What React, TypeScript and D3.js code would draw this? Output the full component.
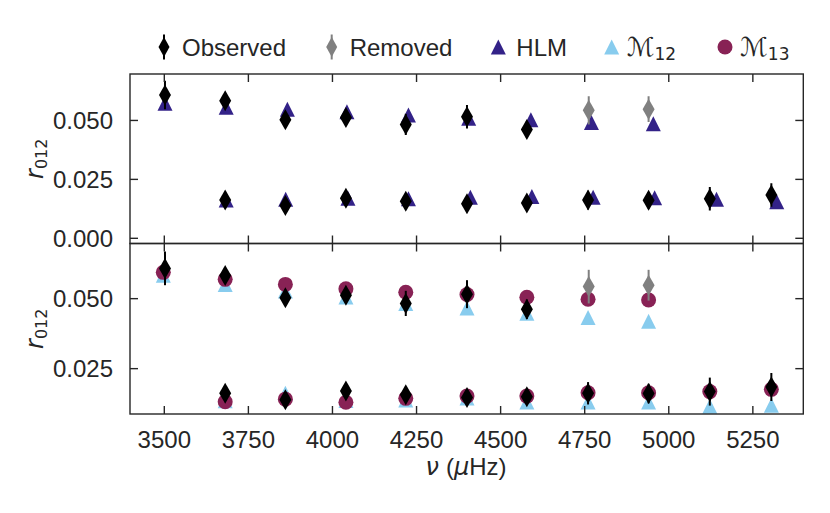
import React from "react";
import * as d3 from "d3";

// upper sequence (r01-like), observed
const obsFreqHi = [3502, 3681, 3860, 4040, 4218, 4400, 4578];
const obsHi = [0.0608, 0.0583, 0.0503, 0.0512, 0.0483, 0.0516, 0.0462];
const obsErrHi = [0.006, 0.002, 0.0025, 0.0025, 0.0045, 0.005, 0.0035];

// points removed from the fit
const remFreq = [4762, 4940];
const remVal = [0.0543, 0.0548];
const remErr = [0.006, 0.0055];

// lower sequence, observed
const obsFreqLo = [3681, 3860, 4040, 4218, 4400, 4578, 4760, 4940, 5122, 5305];
const obsLo = [0.0162, 0.0139, 0.017, 0.0157, 0.0147, 0.015, 0.0162, 0.0161, 0.0168, 0.0184];
const obsErrLo = [0.002, 0.002, 0.0025, 0.002, 0.002, 0.002, 0.004, 0.0035, 0.005, 0.005];

// HLM model
const hlmFreqHi = [3502, 3684, 3866, 4043, 4226, 4405, 4590, 4770, 4954];
const hlmHi = [0.0573, 0.0556, 0.0548, 0.0537, 0.0523, 0.0509, 0.0503, 0.0491, 0.0486];
const hlmFreqLo = [3684, 3861, 4046, 4226, 4410, 4593, 4775, 4958, 5142, 5321];
const hlmLo = [0.0163, 0.0166, 0.017, 0.0168, 0.0174, 0.0177, 0.0174, 0.0172, 0.0166, 0.0155];

// M12 / M13 models
const modFreqHi = [3497, 3681, 3860, 4040, 4218, 4400, 4578, 4760, 4940];
const modFreqLo = [3681, 3860, 4040, 4218, 4400, 4578, 4760, 4940, 5122, 5305];
const m12Hi = [0.0584, 0.0551, 0.0527, 0.0506, 0.0483, 0.0467, 0.0448, 0.0433, 0.0419];
const m12Lo = [0.0135, 0.0162, 0.0136, 0.0138, 0.0145, 0.0131, 0.0131, 0.0131, 0.0116, 0.0119];
const m13Hi = [0.0594, 0.0569, 0.0551, 0.0535, 0.0523, 0.0515, 0.0505, 0.0498, 0.0495];
const m13Lo = [0.0132, 0.0141, 0.013, 0.0144, 0.0152, 0.0152, 0.0164, 0.0164, 0.0168, 0.0176];

const xTicks = [3500, 3750, 4000, 4250, 4500, 4750, 5000, 5250];
const yTicksTop = [0, 0.025, 0.05];
const yTicksBottom = [0.025, 0.05];

const colors = {
  obs: "#000000",
  removed: "#808080",
  hlm: "#332288",
  m12: "#88CCEE",
  m13: "#882255",
};

const W = 830;
const H = 513;
const left = 130;
const right = 803.3;
const top = 74;
const mid = 243.5;
const bottom = 414;
const ink = "#262626";
const font = "'Liberation Sans', Arial, sans-serif";
const mathFont = "'DejaVu Sans', sans-serif";

const x = d3.scaleLinear().domain([3398, 5400]).range([left, right]);
const yTop = d3.scaleLinear().domain([-0.0022, 0.0697]).range([mid, top]);
const yBot = d3.scaleLinear().domain([0.0088, 0.0697]).range([bottom, mid]);
const fmt = d3.format(".3f");

const diamond = (w: number, h: number) =>
  `M0,${-h / 2}L${w / 2},0L0,${h / 2}L${-w / 2},0Z`;
const triangle = (s: number) => `M0,${-s / 2}L${s / 2},${s / 2}L${-s / 2},${s / 2}Z`;

const Diamonds = ({ f, v, e, y, color }: any) => (
  <g>
    {f.map((fi: number, i: number) => (
      <g key={i}>
        <line
          x1={x(fi)}
          x2={x(fi)}
          y1={y(v[i] - e[i])}
          y2={y(v[i] + e[i])}
          stroke={color}
          strokeWidth={2}
        />
        <path d={diamond(12, 21)} transform={`translate(${x(fi)},${y(v[i])})`} fill={color} />
      </g>
    ))}
  </g>
);

const Triangles = ({ f, v, y, color }: any) => (
  <g>
    {f.map((fi: number, i: number) => (
      <path key={i} d={triangle(15)} transform={`translate(${x(fi)},${y(v[i])})`} fill={color} />
    ))}
  </g>
);

const Circles = ({ f, v, y, color }: any) => (
  <g>
    {f.map((fi: number, i: number) => (
      <circle key={i} cx={x(fi)} cy={y(v[i])} r={7.5} fill={color} />
    ))}
  </g>
);

const Frame = ({ y, y0, y1, ticks }: any) => (
  <g>
    <rect x={left} y={y0} width={right - left} height={y1 - y0} fill="none" stroke={ink} strokeWidth={1.4} />
    {xTicks.map((t) => (
      <g key={"x" + t} stroke={ink} strokeWidth={1.4}>
        <line x1={x(t)} x2={x(t)} y1={y1} y2={y1 - 8} />
        <line x1={x(t)} x2={x(t)} y1={y0} y2={y0 + 8} />
      </g>
    ))}
    {ticks.map((t: number) => (
      <g key={"y" + t}>
        <line x1={left} x2={left + 8} y1={y(t)} y2={y(t)} stroke={ink} strokeWidth={1.4} />
        <line x1={right} x2={right - 8} y1={y(t)} y2={y(t)} stroke={ink} strokeWidth={1.4} />
        <text x={left - 17} y={y(t) + 8.6} textAnchor="end" fontSize={24} fontFamily={font} fill={ink}>
          {fmt(t)}
        </text>
      </g>
    ))}
    <text
      transform={`translate(43,${(y0 + y1) / 2}) rotate(-90)`}
      textAnchor="middle"
      fontFamily={mathFont}
      fill={ink}
    >
      <tspan fontSize={24} fontStyle="italic">r</tspan>
      <tspan fontSize={16} dy={4}>012</tspan>
    </text>
  </g>
);

const legendItems = [
  { label: "Observed", kind: "diamond", color: colors.obs, cx: 164 },
  { label: "Removed", kind: "diamond", color: colors.removed, cx: 331.7 },
  { label: "HLM", kind: "triangle", color: colors.hlm, cx: 498.3 },
  { label: "12", kind: "triangle", color: colors.m12, cx: 611.7, math: true },
  { label: "13", kind: "circle", color: colors.m13, cx: 725, math: true },
];

const Legend = () => {
  const cy = 47;
  return (
    <g>
      {legendItems.map((d) => (
        <g key={d.label}>
          {d.kind === "diamond" && (
            <g>
              <line x1={d.cx} x2={d.cx} y1={cy - 12.5} y2={cy + 12.5} stroke={d.color} strokeWidth={2} />
              <path d={diamond(11, 20)} transform={`translate(${d.cx},${cy})`} fill={d.color} />
            </g>
          )}
          {d.kind === "triangle" && (
            <path d={triangle(15)} transform={`translate(${d.cx},${cy})`} fill={d.color} />
          )}
          {d.kind === "circle" && <circle cx={d.cx} cy={cy} r={7.5} fill={d.color} />}
          {d.math ? (
            <text x={d.cx + 15} y={cy + 8.6} fill={ink} fontFamily={mathFont}>
              <tspan fontSize={26}>ℳ</tspan>
              <tspan fontSize={17} dy={4}>{d.label}</tspan>
            </text>
          ) : (
            <text x={d.cx + 18} y={cy + 8.6} fill={ink} fontFamily={font} fontSize={24}>
              {d.label}
            </text>
          )}
        </g>
      ))}
    </g>
  );
};

const App: React.FC = () => (
  <svg
    width={W}
    height={H}
    style={{ position: "absolute", left: 0, top: 0, background: "#fff" }}
  >
    <defs>
      <clipPath id="clipTop">
        <rect x={left} y={top} width={right - left} height={mid - top} />
      </clipPath>
      <clipPath id="clipBot">
        <rect x={left} y={mid} width={right - left} height={bottom - mid} />
      </clipPath>
    </defs>

    <g clipPath="url(#clipTop)">
      <Triangles f={hlmFreqHi} v={hlmHi} y={yTop} color={colors.hlm} />
      <Triangles f={hlmFreqLo} v={hlmLo} y={yTop} color={colors.hlm} />
      <Diamonds f={obsFreqHi} v={obsHi} e={obsErrHi} y={yTop} color={colors.obs} />
      <Diamonds f={obsFreqLo} v={obsLo} e={obsErrLo} y={yTop} color={colors.obs} />
      <Diamonds f={remFreq} v={remVal} e={remErr} y={yTop} color={colors.removed} />
    </g>

    <g clipPath="url(#clipBot)">
      <Triangles f={modFreqHi} v={m12Hi} y={yBot} color={colors.m12} />
      <Triangles f={modFreqLo} v={m12Lo} y={yBot} color={colors.m12} />
      <Circles f={modFreqHi} v={m13Hi} y={yBot} color={colors.m13} />
      <Circles f={modFreqLo} v={m13Lo} y={yBot} color={colors.m13} />
      <Diamonds f={obsFreqHi} v={obsHi} e={obsErrHi} y={yBot} color={colors.obs} />
      <Diamonds f={obsFreqLo} v={obsLo} e={obsErrLo} y={yBot} color={colors.obs} />
      <Diamonds f={remFreq} v={remVal} e={remErr} y={yBot} color={colors.removed} />
    </g>

    <Frame y={yTop} y0={top} y1={mid} ticks={yTicksTop} />
    <Frame y={yBot} y0={mid} y1={bottom} ticks={yTicksBottom} />

    {xTicks.map((t) => (
      <text key={t} x={x(t)} y={448} textAnchor="middle" fontSize={24} fontFamily={font} fill={ink}>
        {t}
      </text>
    ))}

    <text x={466} y={475} textAnchor="middle" fontSize={24} fill={ink} fontFamily={font}>
      <tspan fontFamily={mathFont} fontStyle="italic">ν</tspan>
      <tspan dx={7}>(</tspan>
      <tspan fontFamily={mathFont} fontStyle="italic">μ</tspan>
      <tspan>Hz)</tspan>
    </text>

    <Legend />
  </svg>
);

export default App;
